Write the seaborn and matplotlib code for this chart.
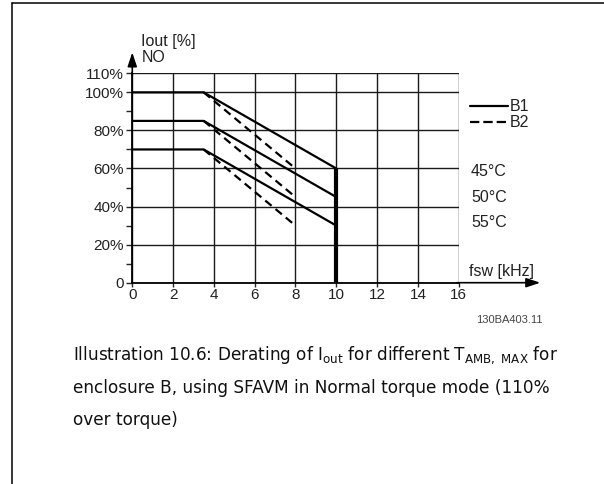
import pandas as pd
import numpy as np
import matplotlib
matplotlib.use('Agg')
import matplotlib.pyplot as plt
from matplotlib.lines import Line2D
import seaborn as sns

# derating curves
temps = ['45°C', '50°C', '55°C']
b1_fsw = [0, 3.5, 10]
b1_iout = {'45°C': [100, 100, 60], '50°C': [85, 85, 45], '55°C': [70, 70, 30]}
b2_fsw = [3.5, 8]
b2_iout = {'45°C': [100, 60], '50°C': [85, 45], '55°C': [70, 30]}
cutoff_fsw = 10
cutoff_top = 60

x_ticks = [0, 2, 4, 6, 8, 10, 12, 14, 16]
y_ticks = [0, 20, 40, 60, 80, 100, 110]
y_labels = ['0', '20%', '40%', '60%', '80%', '100%', '110%']
y_minor = [10, 30, 50, 70, 90]
temp_label_y = [58.5, 45, 31.5]

rows = []
for t in temps:
    for x, y in zip(b1_fsw, b1_iout[t]):
        rows.append({'fsw': x, 'iout': y, 'temp': t, 'type': 'B1'})
    for x, y in zip(b2_fsw, b2_iout[t]):
        rows.append({'fsw': x, 'iout': y, 'temp': t, 'type': 'B2'})
df = pd.DataFrame(rows)
df['curve'] = df['temp'] + df['type']

sns.set_style('white')
plt.rcParams['font.family'] = ['Liberation Sans', 'DejaVu Sans']

fig = plt.figure(figsize=(6.04, 4.84), dpi=100)
ax = fig.add_axes([0.219, 0.4159, 0.5404, 0.4326])

sns.lineplot(data=df, x='fsw', y='iout', units='curve', style='type', estimator=None,
             color='black', lw=1.6, dashes={'B1': '', 'B2': (3.7, 2.3)}, legend=False, ax=ax)
ax.vlines(cutoff_fsw, 0, cutoff_top, color='black', lw=3)

ax.set_xlim(0, 16)
ax.set_ylim(0, 110)
ax.set_xticks(x_ticks)
ax.set_xticklabels([str(v) for v in x_ticks])
ax.set_yticks(y_ticks)
ax.set_yticklabels(y_labels)
ax.set_yticks(y_minor, minor=True)
ax.grid(True, which='major', color='#1a1a1a', lw=1.0)
ax.set_xlabel('')
ax.set_ylabel('')
for s in ['top', 'right']:
    ax.spines[s].set_visible(False)
for s in ['left', 'bottom']:
    ax.spines[s].set_color('black')
    ax.spines[s].set_linewidth(1.3)
ax.tick_params(axis='y', which='both', direction='out', length=4, width=1, pad=2,
               labelsize=11, labelcolor='#222222', left=True)
ax.tick_params(axis='x', direction='out', length=3, width=1, pad=0.5,
               labelsize=11, labelcolor='#222222', bottom=True)

# axis arrows
arr = dict(arrowstyle='-|>,head_length=0.6,head_width=0.2', color='black', lw=1.2,
           mutation_scale=14, shrinkA=0, shrinkB=0)
ax.annotate('', xy=(0, 121), xytext=(0, 109), arrowprops=arr, annotation_clip=False)
ax.annotate('', xy=(20, 0), xytext=(15.9, 0), arrowprops=arr, annotation_clip=False)

lab = dict(fontsize=11.5, color='#222222', va='center', ha='left', clip_on=False)
ax.text(0.45, 126.5, 'Iout [%]', **lab)
ax.text(0.45, 118.5, 'NO', **lab)
ax.text(16.5, 6, 'fsw [kHz]', **lab)
for t, yy in zip(temps, temp_label_y):
    ax.text(16.6, yy, t, **lab)

handles = [Line2D([], [], color='black', lw=1.6),
           Line2D([], [], color='black', lw=1.6, dashes=(4.2, 1.8))]
ax.legend(handles, ['B1', 'B2'], loc='upper left', bbox_to_anchor=(1.035, 0.875),
          frameon=False, fontsize=11.5, handlelength=2.35, handletextpad=0.12,
          labelspacing=0.05, borderpad=0, borderaxespad=0, labelcolor='#222222')

fig.text(509 / 604, 1 - 320 / 484, '130BA403.11', fontsize=8, color='#444444',
         ha='center', va='center')

# caption
cap = dict(fontsize=12.2, family='DejaVu Sans', color='#111111', ha='left', va='baseline')
fig.text(73 / 604, 1 - 360 / 484,
         r'Illustration 10.6: Derating of I$_{\mathregular{out}}$ for different '
         r'T$_{\mathregular{AMB,\ MAX}}$ for', **cap)
fig.text(73 / 604, 1 - 393 / 484,
         'enclosure B, using SFAVM in Normal torque mode (110%', **cap)
fig.text(73 / 604, 1 - 425 / 484, 'over torque)', **cap)

# page border
fig.add_artist(Line2D([12.3 / 604, 1], [1 - 3.3 / 484, 1 - 3.3 / 484], color='black', lw=1.1))
fig.add_artist(Line2D([12.3 / 604, 12.3 / 604], [0, 1 - 3.3 / 484], color='black', lw=1.1))

fig.savefig('out.png', dpi=100)
